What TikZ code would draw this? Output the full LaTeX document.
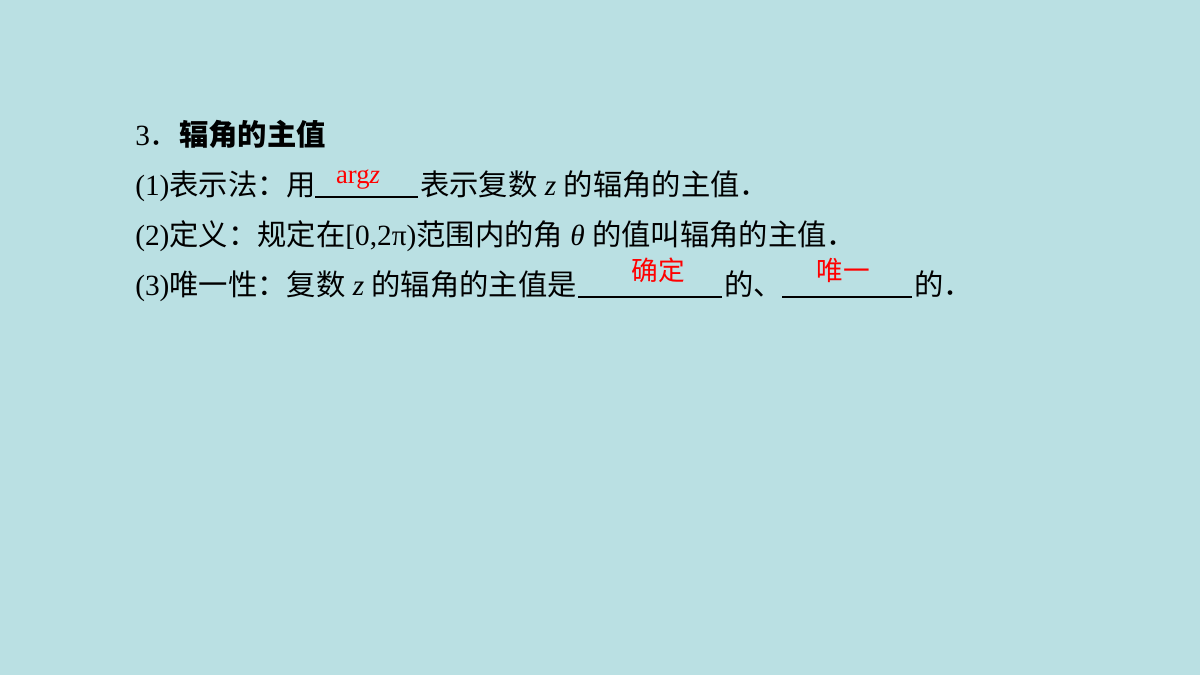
\documentclass[tikz,border=0pt]{standalone}
\usepackage{fontspec}
\setmainfont{Liberation Serif}
\newfontfamily\cjk{Noto Sans CJK SC}
\definecolor{bg}{HTML}{BAE0E3}
\tikzset{seg/.style={anchor=base west,inner sep=0pt,font=\fontsize{22pt}{25pt}\selectfont},
ans/.style={anchor=base,inner sep=0pt,text=red,font=\fontsize{20pt}{22pt}\selectfont},
blank/.style={line width=1.4pt}}
\begin{document}
\begin{tikzpicture}[x=0.75pt,y=-0.75pt]
\fill[bg] (0,0) rectangle (1200,675);
\useasboundingbox (0,0) rectangle (1200,675);
% line 1
\node[seg] (t1) at (135,145) {3{\cjk ．\bfseries 辐角的主值}};
% line 2
\node[seg] (a1) at (135,195) {(1){\cjk 表示法：用}};
\coordinate (u1a) at (315,197); \coordinate (u1b) at (418,197);
\draw[blank] (u1a) -- (u1b);
\node[ans] (r1) at (358,183) {arg\textit{z}};
\node[seg] (a2) at (420,195) {{\cjk 表示复数} \textit{z} {\cjk 的辐角的主值．}};
% line 3
\node[seg] (b1) at (135,245) {(2){\cjk 定义：规定在}[0,2π){\cjk 范围内的角} \textit{θ} {\cjk 的值叫辐角的主值．}};
% line 4
\node[seg] (c1) at (135,295) {(3){\cjk 唯一性：复数} \textit{z} {\cjk 的辐角的主值是}};
\coordinate (u2a) at (578,297); \coordinate (u2b) at (722,297);
\draw[blank] (u2a) -- (u2b);
\node[ans] (r2) at (658,280) {\cjk 确定};
\node[seg] (c2) at (724,295) {\cjk 的、};
\coordinate (u3a) at (782,297); \coordinate (u3b) at (912,297);
\draw[blank] (u3a) -- (u3b);
\node[ans] (r3) at (843,280) {\cjk 唯一};
\node[seg] (c3) at (914,295) {\cjk 的．};
\end{tikzpicture}
\end{document}
